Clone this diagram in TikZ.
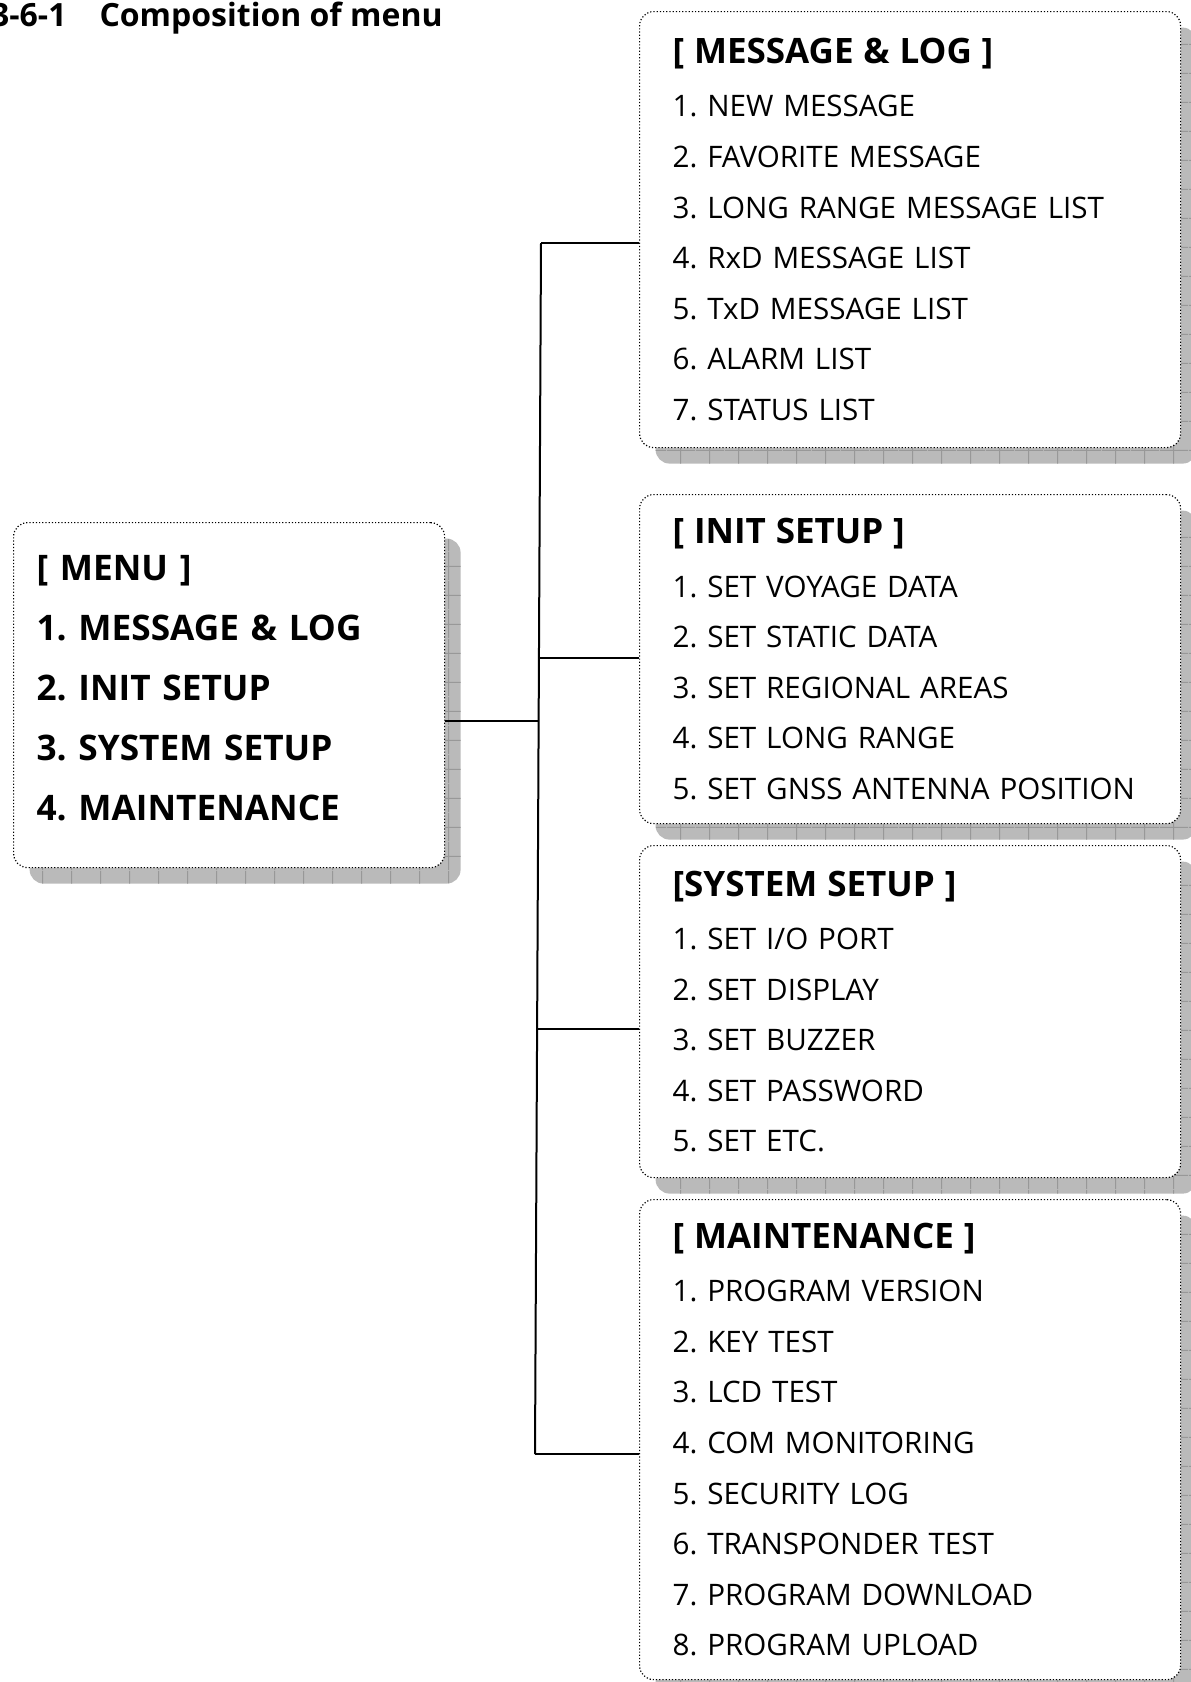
\documentclass[tikz,border=0pt]{standalone}
\usepackage{fontspec}
\setmainfont{Open Sans}
\usepackage{tikz}
\usetikzlibrary{positioning,shadows,patterns.meta}
\definecolor{shadegray}{RGB}{186,186,186}
\definecolor{gridgray}{RGB}{152,152,152}
\frenchspacing

\tikzdeclarepattern{
  name=shadegrid,
  type=uncolored,
  bounding box={(0pt,0pt) and (14.5pt,14.5pt)},
  tile size={(14.5pt,14.5pt)},
  code={\draw[line width=0.5pt] (0pt,7pt) -- (14.5pt,7pt) (7pt,0pt) -- (7pt,14.5pt);}
}

\newcommand{\boxhead}[1]{{\fontsize{17.5}{25.3}\selectfont\bfseries #1}\\[1.4pt]}

\begin{document}
\begin{tikzpicture}[x=0.5pt, y=-0.5pt,
        menubox/.style={rectangle, rounded corners=7pt, draw, densely dotted, line width=0.6pt, fill=white,
            anchor=north west, align=left, inner ysep=0pt,
            drop shadow={shadow xshift=8pt, shadow yshift=-8pt, fill=shadegray, opacity=1},
            drop shadow={shadow xshift=8pt, shadow yshift=-8pt, pattern=shadegrid, pattern color=gridgray, opacity=1}},
        subbox/.style={menubox, inner xsep=16.5pt, text width=237.5pt, minimum width=270.5pt,
            font=\fontsize{14.8}{25.3}\selectfont},
        link/.style={line width=1pt}
    ]
        \useasboundingbox (0,0) rectangle (1190,1682);

        % title
        \node[anchor=base east, inner sep=0pt, font=\fontsize{16}{18}\selectfont\bfseries] (title) at (443,26)
            {3-6-1\hspace{16.5pt}Composition of menu};

        % main menu
        \node[menubox, inner xsep=11.5pt, text width=192.5pt, minimum width=215.5pt, minimum height=172.5pt,
            font=\fontsize{17.6}{30}\selectfont\bfseries] (menu) at (13,522)
            {[ MENU ]\\ 1. MESSAGE \& LOG\\ 2. INIT SETUP\\ 3. SYSTEM SETUP\\ 4. MAINTENANCE\rule[-7pt]{0pt}{0pt}};

        % sub menus
        \node[subbox, minimum height=218pt] (msg) at (639,11)
            {\boxhead{[ MESSAGE \& LOG ]}
             1. NEW MESSAGE\\ 2. FAVORITE MESSAGE\\ 3. LONG RANGE MESSAGE LIST\\ 4. RxD MESSAGE LIST\\
             5. TxD MESSAGE LIST\\ 6. ALARM LIST\\ 7. STATUS LIST};
        \node[subbox, minimum height=164.5pt] (init) at (639,494)
            {\boxhead{[ INIT SETUP ]}
             1. SET VOYAGE DATA\\ 2. SET STATIC DATA\\ 3. SET REGIONAL AREAS\\ 4. SET LONG RANGE\\
             5. SET GNSS ANTENNA POSITION};
        \node[subbox, minimum height=166pt] (sys) at (639,845)
            {\boxhead{[SYSTEM SETUP ]}
             1. SET I/O PORT\\ 2. SET DISPLAY\\ 3. SET BUZZER\\ 4. SET PASSWORD\\ 5. SET ETC.};
        \node[subbox, minimum height=240pt] (mnt) at (639,1199)
            {\boxhead{[ MAINTENANCE ]}
             1. PROGRAM VERSION\\ 2. KEY TEST\\ 3. LCD TEST\\ 4. COM MONITORING\\ 5. SECURITY LOG\\
             6. TRANSPONDER TEST\\ 7. PROGRAM DOWNLOAD\\ 8. PROGRAM UPLOAD};

        % connectors
        \coordinate (t1) at (541,243);
        \coordinate (t2) at (539,658);
        \coordinate (t0) at (538.5,721);
        \coordinate (t3) at (537,1029);
        \coordinate (t4) at (535,1454);

        \draw[link] (t1) -- (t4);
        \draw[link] (menu.east |- t0) -- (t0);
        \draw[link] (t1) -- (t1 -| msg.west);
        \draw[link] (t2) -- (t2 -| init.west);
        \draw[link] (t3) -- (t3 -| sys.west);
        \draw[link] (t4) -- (t4 -| mnt.west);
    \end{tikzpicture}
\end{document}
